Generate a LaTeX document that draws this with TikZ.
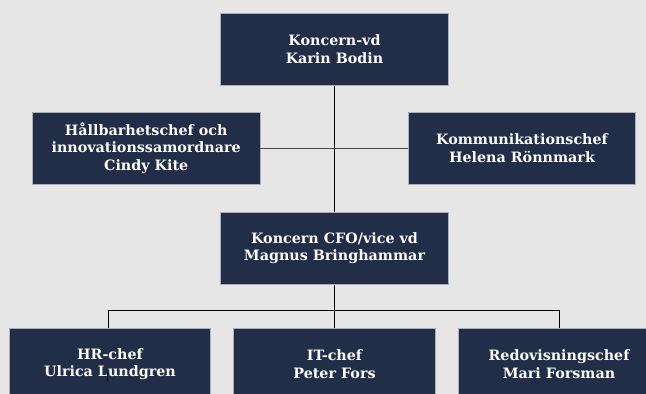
\documentclass[tikz,border=0pt]{standalone}
\usepackage{fontspec}
\setmainfont{DejaVu Serif}
\definecolor{bg}{HTML}{E6E6E6}
\definecolor{boxfill}{HTML}{222E48}
\definecolor{boxline}{HTML}{A9AFBC}
\definecolor{hline}{HTML}{4A4A4A}
\begin{document}
\begin{tikzpicture}[x=1pt,y=-1pt,
  orgbox/.style={fill=boxfill,draw=boxline,line width=0.8pt,text=white,
    font=\bfseries\fontsize{14.3}{17.5}\selectfont,align=center,
    minimum height=72pt,inner sep=0pt},
  wide/.style={orgbox,minimum width=227.5pt},
  narrow/.style={orgbox,minimum width=201.5pt},
  conn/.style={draw=black,line width=0.9pt},
  sideconn/.style={draw=hline,line width=1.1pt}]
\useasboundingbox (0,0) rectangle (646,394);
\fill[bg] (0,0) rectangle (646,394);
\clip (0,0) rectangle (646,394);
\node[wide] (vd) at (334.5,49.3) {Koncern-vd\\Karin Bodin};
\node[wide] (hall) at (146.2,148.2) {Hållbarhetschef och\\innovationssamordnare\\Cindy Kite};
\node[wide] (komm) at (522,148.2) {Kommunikationschef\\Helena Rönnmark};
\node[wide] (cfo) at (334.5,248.3) {Koncern CFO/vice vd\\Magnus Bringhammar};
\node[narrow] (hr) at (110,364.3) {HR-chef\\Ulrica Lundgren};
\node[narrow] (it) at (334.5,364.3) {IT-chef\\Peter Fors};
\node[narrow] (redo) at (559,364.3) {Redovisningschef\\Mari Forsman};
\coordinate (bus) at (334.5,310.7);
\coordinate (hrtop) at (108,328.3);
\coordinate (mark1) at (107.5,372);
\coordinate (mark2) at (107.5,381);
\path[sideconn] (hall.east) -- (komm.west);
\path[conn] (vd.south) -- (cfo.north);
\path[conn] (cfo.south) -- (it.north);
\path[conn] (hrtop) |- (bus) -| (redo.north);
\path[conn] (mark1) -- (mark2);
\end{tikzpicture}
\end{document}
